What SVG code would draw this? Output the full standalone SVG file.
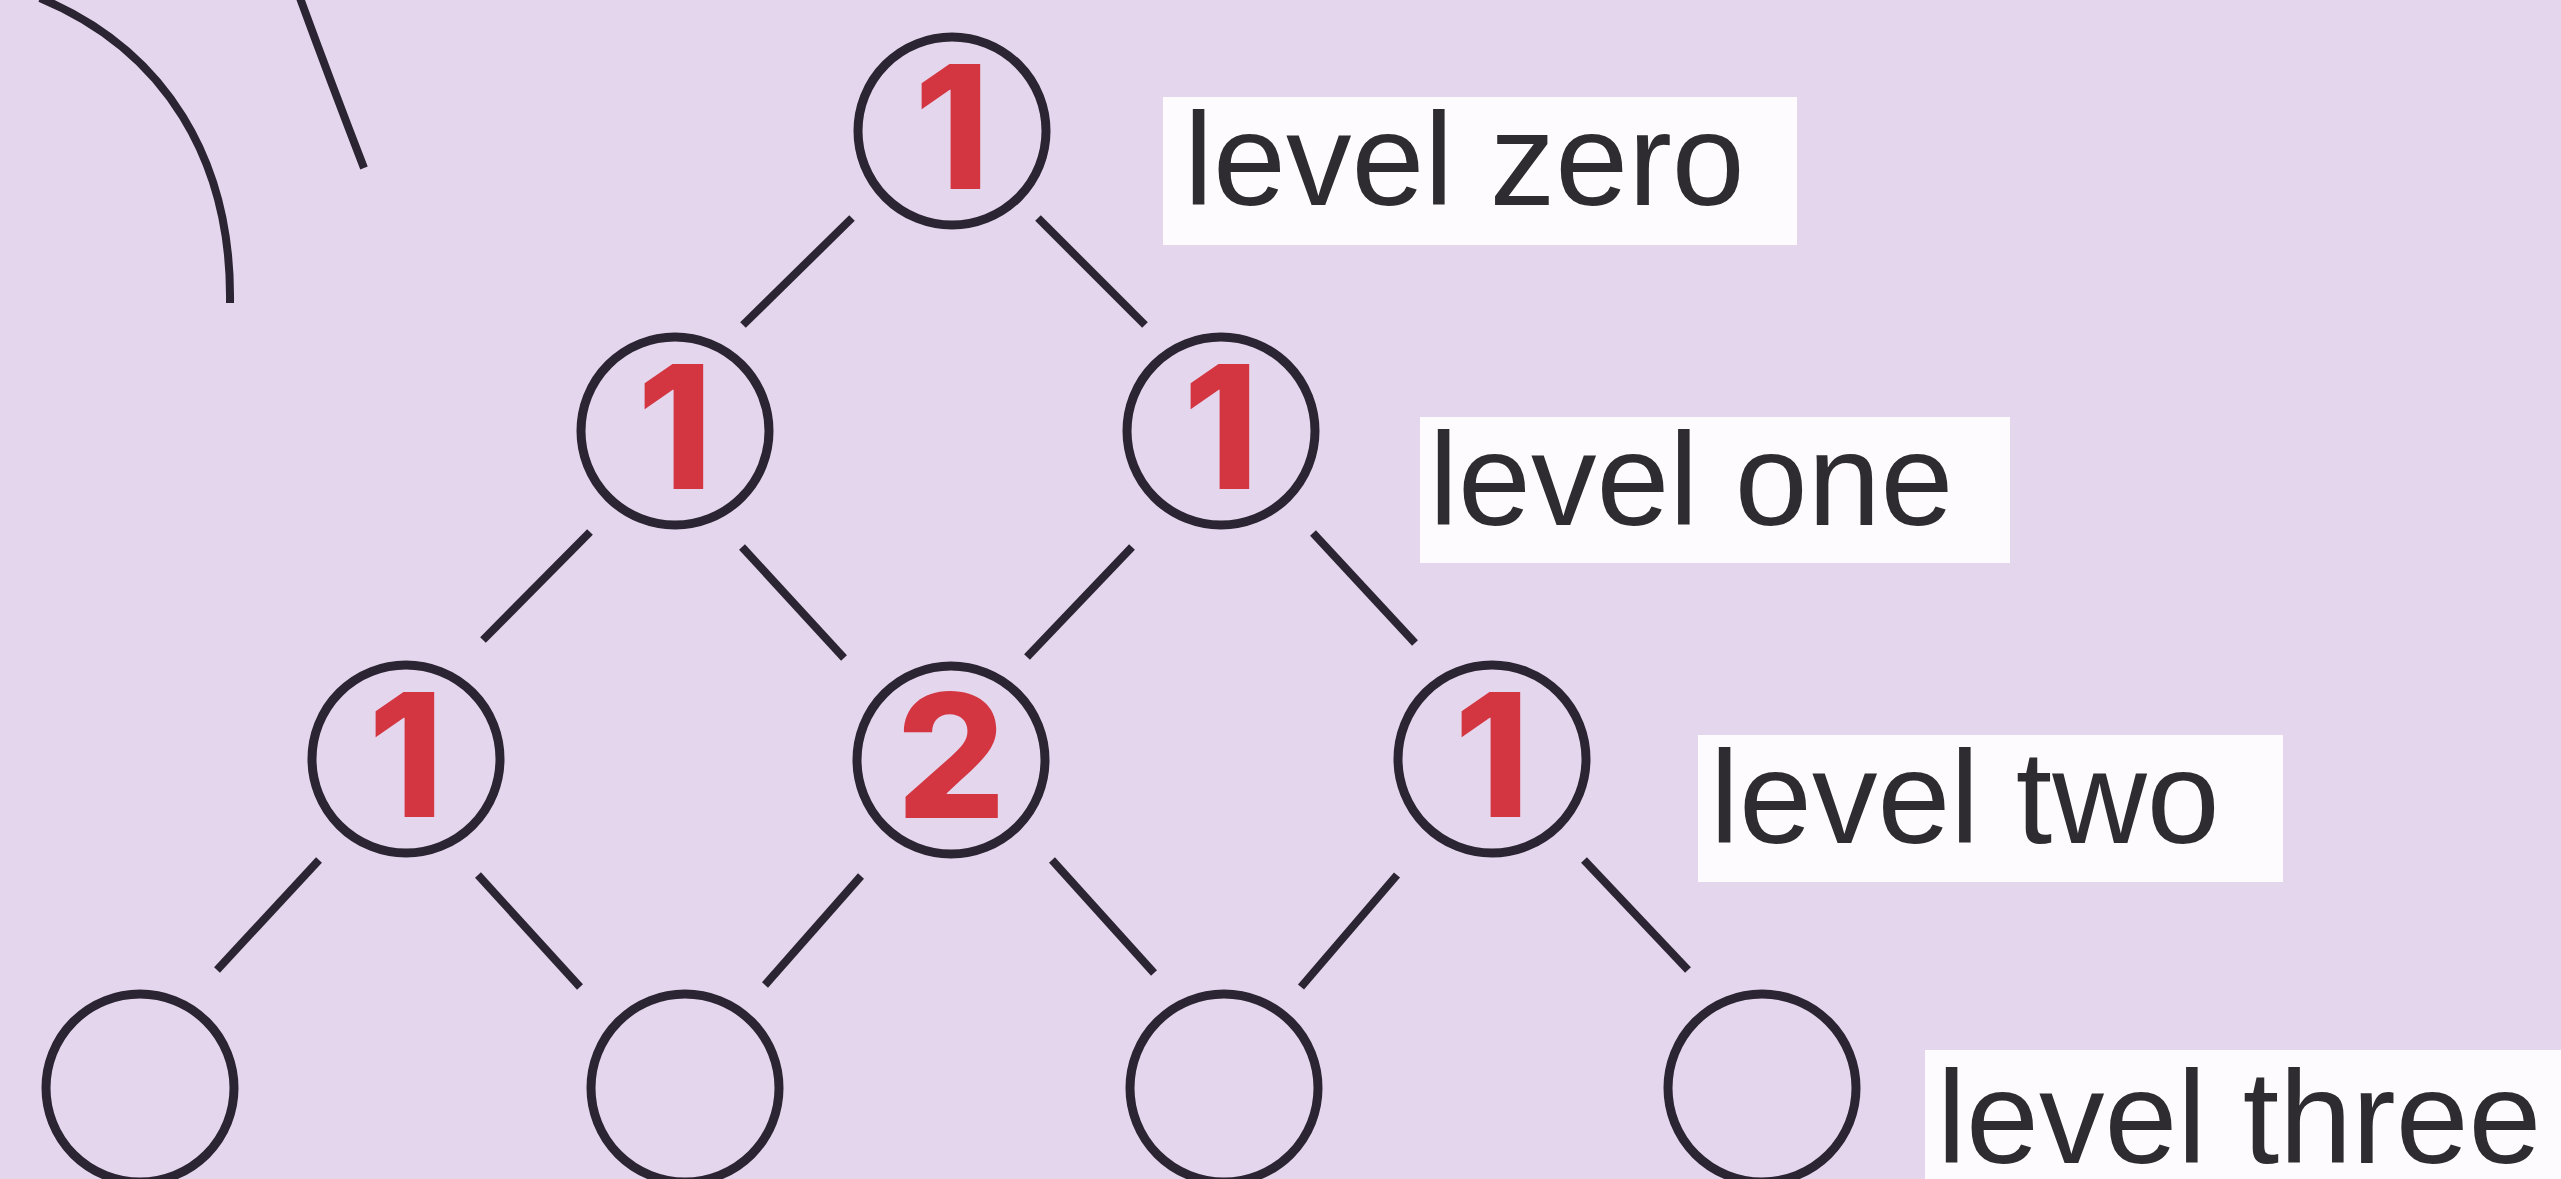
<svg xmlns="http://www.w3.org/2000/svg" width="2561" height="1179" viewBox="0 0 2561 1179">
<style>
.node{fill:none;stroke:#2b2433;stroke-width:9}
.edge{stroke:#2b2433;stroke-width:8;fill:none}
.num{font-family:Inter,"Liberation Sans",Arial,sans-serif;font-weight:800;font-size:172px;fill:#d33640;text-anchor:middle}
.lbl{font-family:"Liberation Sans",Arial,sans-serif;font-size:131px;fill:#2e2c30}
.box{fill:#fdfbfd}
</style>
<rect x="0" y="0" width="2561" height="1179" fill="#e4d6ed"/>
<g id="arcs">
<path class="edge" d="M 40 -2 C 165 50, 232 160, 230 303"/>
<path class="edge" d="M 300 -2 Q 330 80 364 168"/>
</g>
<g id="connectors">
<line class="edge" x1="852" y1="218" x2="743" y2="325"/>
<line class="edge" x1="1038" y1="218" x2="1145" y2="325"/>
<line class="edge" x1="590" y1="532" x2="483" y2="640"/>
<line class="edge" x1="742" y1="547" x2="844" y2="658"/>
<line class="edge" x1="1132" y1="547" x2="1027" y2="657"/>
<line class="edge" x1="1313" y1="533" x2="1415" y2="643"/>
<line class="edge" x1="319" y1="860" x2="217" y2="970"/>
<line class="edge" x1="478" y1="875" x2="580" y2="987"/>
<line class="edge" x1="861" y1="876" x2="765" y2="985"/>
<line class="edge" x1="1052" y1="860" x2="1154" y2="973"/>
<line class="edge" x1="1397" y1="875" x2="1301" y2="987"/>
<line class="edge" x1="1584" y1="860" x2="1688" y2="970"/>
</g>
<g id="n0"><circle class="node" cx="952" cy="131" r="94"/><text class="num" x="952" y="189">1</text></g>
<g id="n1a"><circle class="node" cx="675" cy="431" r="94"/><text class="num" x="675" y="489">1</text></g>
<g id="n1b"><circle class="node" cx="1221" cy="431" r="94"/><text class="num" x="1221" y="489">1</text></g>
<g id="n2a"><circle class="node" cx="406" cy="759" r="94"/><text class="num" x="406" y="817">1</text></g>
<g id="n2b"><circle class="node" cx="951" cy="760" r="94"/><text class="num" x="951" y="818">2</text></g>
<g id="n2c"><circle class="node" cx="1492" cy="759" r="94"/><text class="num" x="1492" y="817">1</text></g>
<g id="n3a"><circle class="node" cx="140" cy="1088" r="94"/></g>
<g id="n3b"><circle class="node" cx="685" cy="1088" r="94"/></g>
<g id="n3c"><circle class="node" cx="1224" cy="1088" r="94"/></g>
<g id="n3d"><circle class="node" cx="1762" cy="1088" r="94"/></g>
<g id="label0"><rect class="box" x="1163" y="97" width="634" height="148"/><text class="lbl" x="1184" y="205">level zero</text></g>
<g id="label1"><rect class="box" x="1420" y="417" width="590" height="146"/><text class="lbl" x="1429" y="525">level one</text></g>
<g id="label2"><rect class="box" x="1698" y="735" width="585" height="147"/><text class="lbl" x="1710" y="843">level two</text></g>
<g id="label3"><rect class="box" x="1925" y="1050" width="636" height="129"/><text class="lbl" x="1937" y="1163">level three</text></g>
</svg>
